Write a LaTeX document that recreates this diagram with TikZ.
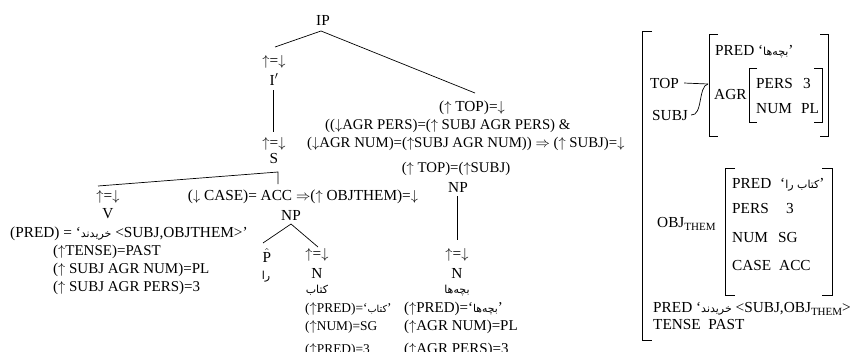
\documentclass[tikz,border=0pt]{standalone}
\usepackage{fontspec}
\setmainfont{Liberation Serif}
\newfontfamily\fafont[Script=Arabic,Scale=0.72]{DejaVu Sans}
\TeXXeTstate=1
\newcommand{\fa}[1]{{\fafont\beginR #1\endR}}
\newcommand{\uar}{$\uparrow$}
\newcommand{\dar}{$\downarrow$}
\newcommand{\imp}{$\Rightarrow$}
\newcommand{\subtx}[1]{\raisebox{-3.5pt}{\fontsize{11}{11}\selectfont #1}}
\newcommand{\fs}{\fontsize{15.3}{18}\selectfont}
\newcommand{\fsa}{\fontsize{14.8}{18}\selectfont}
\newcommand{\fsb}{\fontsize{15}{18}\selectfont}
\newcommand{\fsn}{\fontsize{13.4}{16}\selectfont}
\tikzset{
  txt/.style={inner sep=0pt, font=\fs, anchor=base},
  txtl/.style={txt, anchor=base west},
  ln/.style={line width=0.7pt},
  brk/.style={line width=0.8pt},
}
\begin{document}
\begin{tikzpicture}[x=1pt,y=-1pt]
\useasboundingbox (0,0) rectangle (860,351);
\fill[white] (0,0) rectangle (860,351);
\begin{scope}
\clip (0,0) rectangle (860,351);
% ---------------- tree ----------------
\node[txt] (IP) at (323,25) {IP};
\node[txt] (a1) at (274,65) {\uar=\dar};
\node[txt] (Ibar) at (274,85) {I$'$};
\node[txt] (a2) at (274,147) {\uar=\dar};
\node[txt] (S) at (274,163) {S};
\node[txt] (aV) at (108,200) {\uar=\dar};
\node[txt] (V) at (108,218) {V};
\node[txtl] (v1) at (10,237) {(PRED) = ‘\fa{خریدند} <SUBJ,OBJTHEM>’};
\node[txtl,font=\fsb] (v2) at (53,255) {(\uar TENSE)=PAST};
\node[txtl,font=\fsb] (v3) at (53,273) {(\uar\ SUBJ AGR NUM)=PL};
\node[txtl,font=\fsb] (v4) at (53,291) {(\uar\ SUBJ AGR PERS)=3};
\node[txt] (caseann) at (303,200) {(\dar\ CASE)= ACC \imp(\uar\ OBJTHEM)=\dar};
\node[txt] (NPo) at (291,220) {NP};
\node[txt] (Phat) at (267,262) {$\hat{\textrm{P}}$};
\node[txt] (ra) at (266,279) {\fa{را}};
\node[txt] (aN1) at (317,258) {\uar=\dar};
\node[txt] (N1) at (317,278) {N};
\node[txt] (ketab) at (317,293) {\fa{کتاب}};
\node[txtl,font=\fsn] (n1a) at (305,312) {(\uar PRED)=‘\fa{کتاب}’};
\node[txtl,font=\fsn] (n1b) at (305,330) {(\uar NUM)=SG};
\node[txtl,font=\fsn] (n1c) at (305,353) {(\uar PRED)=3};
\node[txt] (topann) at (472,111) {(\uar\ TOP)=\dar};
\node[txtl,font=\fsa] (agr1) at (325,129) {((\dar AGR PERS)=(\uar\ SUBJ AGR PERS) \&};
\node[txtl,font=\fsa] (agr2) at (307,147) {(\dar AGR NUM)=(\uar SUBJ AGR NUM)) \imp\ (\uar\ SUBJ)=\dar};
\node[txt,font=\fsa] (topsubj) at (456,172) {(\uar\ TOP)=(\uar SUBJ)};
\node[txt] (NPs) at (458,192) {NP};
\node[txt] (aN2) at (457,258) {\uar=\dar};
\node[txt] (N2) at (457,278) {N};
\node[txt] (bache) at (457,293) {\fa{بچه^^^^200cها}};
\node[txtl,font=\fsb] (n2a) at (404,312) {(\uar PRED)=‘\fa{بچه^^^^200cها}’};
\node[txtl,font=\fsb] (n2b) at (404,330) {(\uar AGR NUM)=PL};
\node[txtl,font=\fsb] (n2c) at (404,353) {(\uar AGR PERS)=3};
% tree lines
\draw[ln] ([xshift=1pt,yshift=18pt]a1.base) -- ([xshift=-2pt,yshift=-6pt]IP.base)
          -- ([xshift=3pt,yshift=18pt]topann.base);
\draw[ln] ([xshift=-1pt,yshift=-5pt]Ibar.base) -- ([xshift=-1pt,yshift=15pt]a2.base);
\draw[ln] ([xshift=-10pt,yshift=14pt]aV.base) -- ([xshift=4pt,yshift=-9pt]S.base)
          -- ([xshift=-25pt,yshift=16pt]caseann.base);
\draw[ln] ([xshift=-4pt,yshift=19pt]Phat.base) -- ([yshift=-4pt]NPo.base)
          -- ([xshift=1pt,yshift=11pt]aN1.base);
\draw[ln] ([xshift=-1pt,yshift=-4pt]NPs.base) -- ([yshift=18pt]aN2.base);
% ---------------- f-structure ----------------
\draw[brk] (652,31) -- (642,31) -- (642,340) -- (652,340);
\node[txtl] (TOP) at (650,88) {TOP};
\node[txtl] (SUBJ) at (652,120) {SUBJ};
\coordinate (jn) at (708,84);
\draw[ln] ([xshift=5pt]TOP.east) -- (jn);
\draw[ln] ([xshift=3pt]SUBJ.east) .. controls (703,116) and (698,86) .. (jn);
\draw[brk] (718,34) -- (709,34) -- (709,136) -- (718,136);
\draw[brk] (820,34) -- (828,34) -- (828,136) -- (820,136);
\node[txtl] (pred1) at (715,55) {PRED ‘\fa{بچه^^^^200cها}’};
\node[txtl] (AGR) at (714,99) {AGR};
\draw[brk] (757,68) -- (749,68) -- (749,122) -- (757,122);
\draw[brk] (814,68) -- (822,68) -- (822,122) -- (814,122);
\node[txtl] (pers1) at (756,88) {PERS};
\node[txtl] (pers1v) at (803,88) {3};
\node[txtl] (num1) at (756,113) {NUM};
\node[txtl] (num1v) at (801,113) {PL};
\node[txtl] (OBJ) at (657,227) {OBJ\subtx{THEM}};
\draw[brk] (735,168) -- (725,168) -- (725,295) -- (735,295);
\draw[brk] (822,168) -- (832,168) -- (832,295) -- (822,295);
\node[txtl] (pred2) at (732,188) {PRED};
\node[txtl] (pred2v) at (780,188) {‘\fa{کتاب را}’};
\node[txtl] (pers2) at (732,213) {PERS};
\node[txtl] (pers2v) at (786,213) {3};
\node[txtl] (num2) at (732,242) {NUM};
\node[txtl] (num2v) at (778,242) {SG};
\node[txtl] (case2) at (732,270) {CASE};
\node[txtl] (case2v) at (779,270) {ACC};
\node[txtl] (pred3) at (653,312) {PRED ‘\fa{خریدند} <SUBJ,OBJ\subtx{THEM}>};
\node[txtl] (tense) at (653,329) {TENSE\ \ PAST};
\end{scope}
\end{tikzpicture}
\end{document}
